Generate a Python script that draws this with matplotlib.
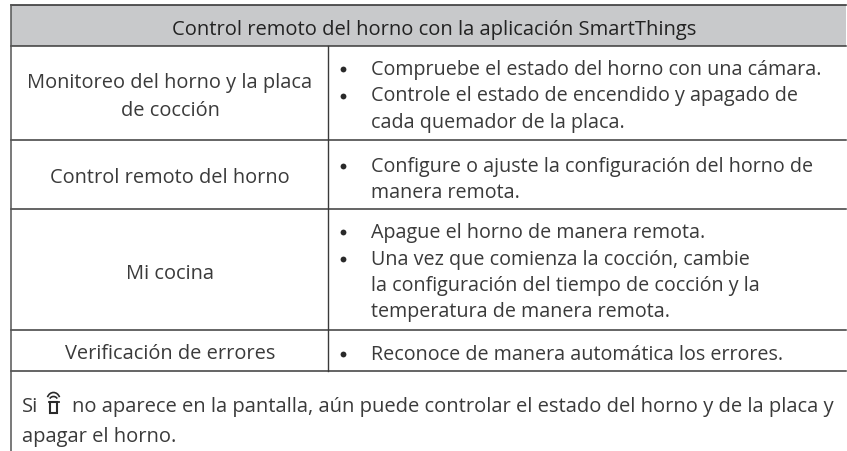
import matplotlib
matplotlib.use("Agg")
import matplotlib.pyplot as plt
from matplotlib.patches import Rectangle, Arc

title = "Control remoto del horno con la aplicación SmartThings"
features = ["Monitoreo del horno y la placa\nde cocción", "Control remoto del horno", "Mi cocina", "Verificación de errores"]
details = [
    ["Compruebe el estado del horno con una cámara.",
     "Controle el estado de encendido y apagado de\ncada quemador de la placa."],
    ["Configure o ajuste la configuración del horno de\nmanera remota."],
    ["Apague el horno de manera remota.",
     "Una vez que comienza la cocción, cambie\nla configuración del tiempo de cocción y la\ntemperatura de manera remota."],
    ["Reconoce de manera automática los errores."],
]
note_start = "Si"
note_end = "no aparece en la pantalla, aún puede controlar el estado del horno y de la placa y"
note_second = "apagar el horno."

row_lines = [45.5, 140, 209, 330, 371]
feature_base = [88, 183, 279, 359]
detail_base = [75, 172, 238, 360]

plt.rcParams["font.family"] = ["Open Sans", "DejaVu Sans"]
W, H = 847, 451
fig = plt.figure(figsize=(W / 100, H / 100), dpi=100)
ax = fig.add_axes([0, 0, 1, 1])
ax.set_xlim(0, W)
ax.set_ylim(H, 0)
ax.axis("off")

line_col = "#3a3a3a"
text_col = "#3a3a3a"
size = 14.2
size_wide = 14.5
left, mid, right, top = 11, 328, 846, 5
line_h = 26.5

ax.add_patch(Rectangle((left, top), right - left, row_lines[0] - top, fc="#c8c9cb", ec="none"))
ax.plot([left, right], [top, top], color=line_col, lw=1.2)
for y in row_lines:
    ax.plot([left, right], [y, y], color=line_col, lw=1.1)
ax.plot([left, left], [top, H], color="#555555", lw=1.1)
ax.plot([mid, mid], [row_lines[0], row_lines[-1]], color=line_col, lw=1.0)

ax.text(434, 35, title, ha="center", va="baseline", fontsize=size_wide, color="#222222")

for i, feat in enumerate(features):
    y = feature_base[i]
    for part in feat.split("\n"):
        ax.text(170, y, part, ha="center", va="baseline", fontsize=14.4, color=text_col)
        y += 28
    y = detail_base[i]
    for d in details[i]:
        ax.plot(343, y - 6, "o", ms=4.2, color="#2a2a2a", mew=0)
        for part in d.split("\n"):
            ax.text(371, y, part, ha="left", va="baseline", fontsize=size, color=text_col)
            y += line_h

ax.text(22, 412, note_start, ha="left", va="baseline", fontsize=size_wide, color=text_col)
ax.text(72, 412, note_end, ha="left", va="baseline", fontsize=size_wide, color=text_col)
ax.text(22, 442, note_second, ha="left", va="baseline", fontsize=size_wide, color=text_col)

# icono de SmartThings
ax.add_patch(Rectangle((50, 402), 7, 11, fc="none", ec="#2a2a2a", lw=1.5))
ax.plot([48.5, 58.5], [401.5, 401.5], color="#2a2a2a", lw=1.3)
ax.add_patch(Arc((53.5, 400), 8, 7, theta1=200, theta2=340, color="#2a2a2a", lw=1.2))
ax.add_patch(Arc((53.5, 400), 13, 15, theta1=205, theta2=335, color="#2a2a2a", lw=1.2))

fig.savefig("out.png", dpi=100)
